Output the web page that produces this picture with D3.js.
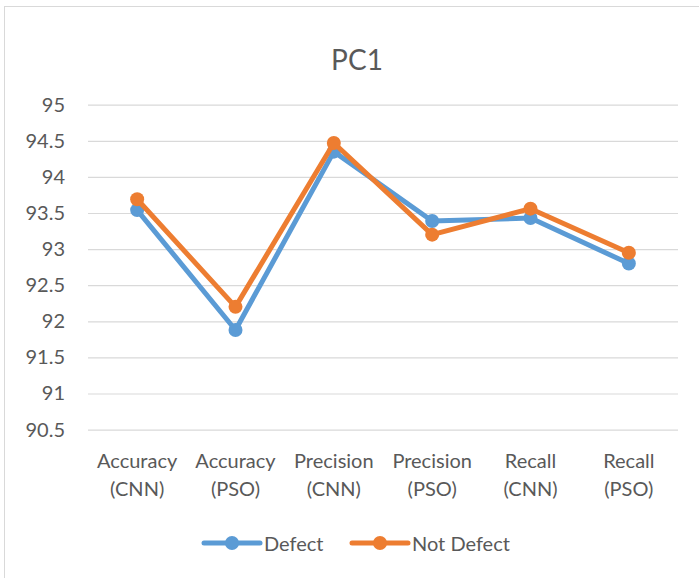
<!DOCTYPE html>
<html>
<head>
<meta charset="utf-8">
<script src="https://cdn.jsdelivr.net/npm/d3@7"></script>
<style>
  body { margin: 0; background: #fff; }
  text { font-family: Lato, "Open Sans", sans-serif; fill: #595959; }
</style>
</head>
<body>
<div id="chart"></div>
<script>
const categories = [
  ['Accuracy', '(CNN)'], ['Accuracy', '(PSO)'],
  ['Precision', '(CNN)'], ['Precision', '(PSO)'],
  ['Recall', '(CNN)'], ['Recall', '(PSO)']
];
const defect = [93.54, 91.88, 94.35, 93.39, 93.43, 92.8];
const notDefect = [93.69, 92.2, 94.47, 93.2, 93.56, 92.95];
const yTicks = [90.5, 91, 91.5, 92, 92.5, 93, 93.5, 94, 94.5, 95];

const series = [
  { name: 'Defect', values: defect, color: '#5B9BD5' },
  { name: 'Not Defect', values: notDefect, color: '#ED7D31' }
];

const width = 699, height = 578;
const plot = { left: 88, right: 678, top: 104.7, bottom: 429.6 };

const svg = d3.select('#chart')
  .append('svg')
    .attr('width', width)
    .attr('height', height);

// chart frame
svg.append('rect')
  .attr('x', 4.5).attr('y', 6.5)
  .attr('width', 720).attr('height', 600)
  .attr('fill', '#fff')
  .attr('stroke', '#d9d9d9');

svg.append('text')
  .attr('x', 357).attr('y', 70)
  .attr('text-anchor', 'middle')
  .style('font-size', '28px')
  .text('PC1');

const x = d3.scaleBand()
  .domain(d3.range(categories.length))
  .range([plot.left, plot.right]);

const y = d3.scaleLinear()
  .domain([90.5, 95])
  .range([plot.bottom, plot.top]);

const cx = i => x(i) + x.bandwidth() / 2;

// gridlines + y labels
const yAxis = d3.axisLeft(y)
  .tickValues(yTicks)
  .tickSize(-(plot.right - plot.left))
  .tickPadding(23)
  .tickFormat(d => d);

svg.append('g')
  .attr('transform', 'translate(' + plot.left + ',0)')
  .call(yAxis)
  .call(g => g.select('.domain').remove())
  .call(g => g.selectAll('line').attr('stroke', '#d9d9d9').attr('stroke-width', 1.2))
  .call(g => g.selectAll('text')
    .style('font-size', '20px')
    .style('font-family', 'Lato, sans-serif')
    .attr('fill', '#595959'));

// x labels
const xl = svg.append('g');
categories.forEach((c, i) => {
  const t = xl.append('text')
    .attr('text-anchor', 'middle')
    .style('font-size', '20px');
  t.append('tspan').attr('x', cx(i)).attr('y', 468).text(c[0]);
  t.append('tspan').attr('x', cx(i)).attr('y', 496).text(c[1]);
});

const line = d3.line()
  .x((d, i) => cx(i))
  .y(d => y(d));

series.forEach(s => {
  const g = svg.append('g');
  g.append('path')
    .datum(s.values)
    .attr('fill', 'none')
    .attr('stroke', s.color)
    .attr('stroke-width', 5)
    .attr('stroke-linejoin', 'round')
    .attr('d', line);
  g.selectAll('circle')
    .data(s.values)
    .enter()
    .append('circle')
    .attr('cx', (d, i) => cx(i))
    .attr('cy', d => y(d))
    .attr('r', 7)
    .attr('fill', s.color);
});

// legend
const legendX = [204, 352];
series.forEach((s, i) => {
  const g = svg.append('g').attr('transform', 'translate(' + legendX[i] + ',543)');
  g.append('line')
    .attr('x1', 0).attr('x2', 56)
    .attr('stroke', s.color)
    .attr('stroke-width', 5)
    .attr('stroke-linecap', 'round');
  g.append('circle').attr('cx', 28).attr('r', 7).attr('fill', s.color);
  g.append('text')
    .attr('x', 60).attr('y', 8)
    .style('font-size', '20px')
    .text(s.name);
});
</script>
</body>
</html>
